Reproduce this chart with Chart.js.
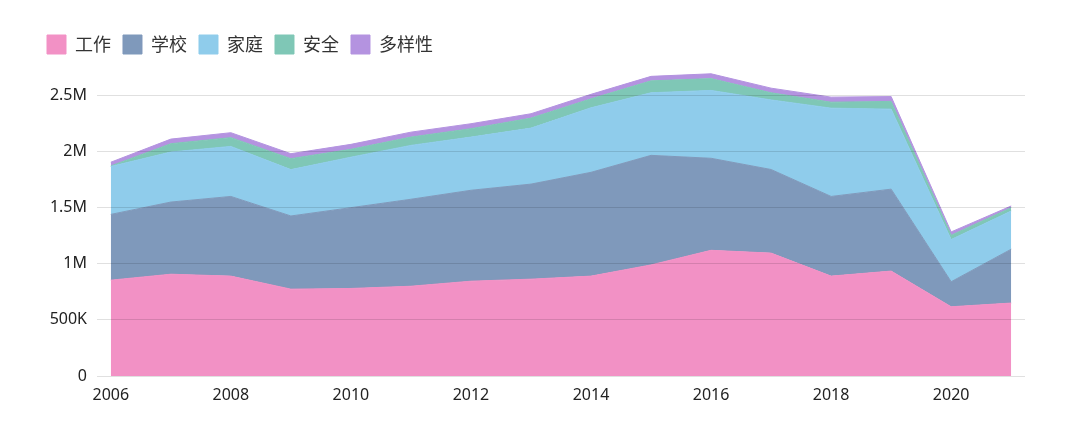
<!DOCTYPE html>
<html>
<head>
<meta charset="utf-8">
<script src="https://cdn.jsdelivr.net/npm/chart.js@4"></script>
<style>
html,body{margin:0;padding:0;background:#fff;}
#wrap{width:1080px;height:434px;position:relative;}
</style>
</head>
<body>
<div id="wrap"><canvas id="c" width="1080" height="434"></canvas></div>
<script>
const years = [2006,2007,2008,2009,2010,2011,2012,2013,2014,2015,2016,2017,2018,2019,2020,2021];
const work      = [854000,907000,890000,774000,780000,800000,845000,863000,890000,990000,1120000,1095000,890000,935000,617000,650000];
const school    = [586000,643000,710000,652000,720000,775000,810000,847000,925000,976000,820000,745000,710000,730000,223000,480000];
const home      = [427000,446000,446000,413000,450000,480000,474000,499000,575000,558000,605000,620000,787000,713000,376000,340000];
const safety    = [5000,74000,78000,98000,70000,74000,75000,89000,80000,106000,105000,64000,53000,69000,38000,30000];
const diversity = [33000,41000,44000,44000,44000,44000,44000,39000,40000,40000,43000,41000,45000,43000,30000,15000];
const seriesNames = ['工作','学校','家庭','安全','多样性'];
const colors = ['#F291C5','#7F99BB','#8FCCEB','#7FC7B6','#B493E0'];
const xTicks = [2006,2008,2010,2012,2014,2016,2018,2020];
const yTicks = [0,500000,1000000,1500000,2000000,2500000];
const yTickLabels = ['0','500K','1M','1.5M','2M','2.5M'];

const seriesValues = [work, school, home, safety, diversity];
const datasets = seriesValues.map((vals, i) => ({
  label: seriesNames[i],
  data: vals.map((v, j) => ({x: years[j], y: v})),
  backgroundColor: colors[i],
  borderColor: colors[i],
  borderWidth: 1,
  pointRadius: 0,
  tension: 0,
  fill: i === 0 ? 'origin' : '-1'
}));

const legendGap = {
  id: 'legendGap',
  beforeInit(chart) {
    const orig = chart.legend.fit;
    chart.legend.fit = function () {
      orig.call(this);
      this.height += 9;
    };
  }
};

new Chart(document.getElementById('c'), {
  type: 'line',
  data: { datasets },
  plugins: [legendGap],
  options: {
    responsive: false,
    animation: false,
    layout: { padding: { left: 35, right: 55, top: 23, bottom: 26 } },
    plugins: {
      legend: {
        position: 'top',
        align: 'start',
        labels: {
          boxWidth: 19,
          boxHeight: 19,
          padding: 12,
          color: '#333',
          font: { family: '"Noto Sans CJK SC", "Noto Sans", sans-serif', size: 18 }
        }
      },
      tooltip: { enabled: false }
    },
    scales: {
      x: {
        type: 'linear',
        min: 2005.77,
        max: 2021.23,
        afterBuildTicks: (s) => { s.ticks = xTicks.map(v => ({value: v})); },
        afterFit: (s) => { s.height = 32; },
        ticks: {
          color: '#222',
          font: { family: '"Noto Sans", sans-serif', size: 16 },
          callback: (v) => String(v),
          maxRotation: 0,
          padding: 2
        },
        grid: { display: false },
        border: { display: false }
      },
      y: {
        stacked: true,
        min: 0,
        max: 2700000,
        afterBuildTicks: (s) => { s.ticks = yTicks.map(v => ({value: v})); },
        afterFit: (s) => { s.width = 62; },
        ticks: {
          color: '#222',
          font: { family: '"Noto Sans", sans-serif', size: 16 },
          callback: (v) => { const k = yTicks.indexOf(v); return k >= 0 ? yTickLabels[k] : ''; },
          padding: 10
        },
        grid: { color: 'rgba(0,0,0,0.12)', drawTicks: false, z: 1 },
        border: { display: false }
      }
    }
  }
});
</script>
</body>
</html>
